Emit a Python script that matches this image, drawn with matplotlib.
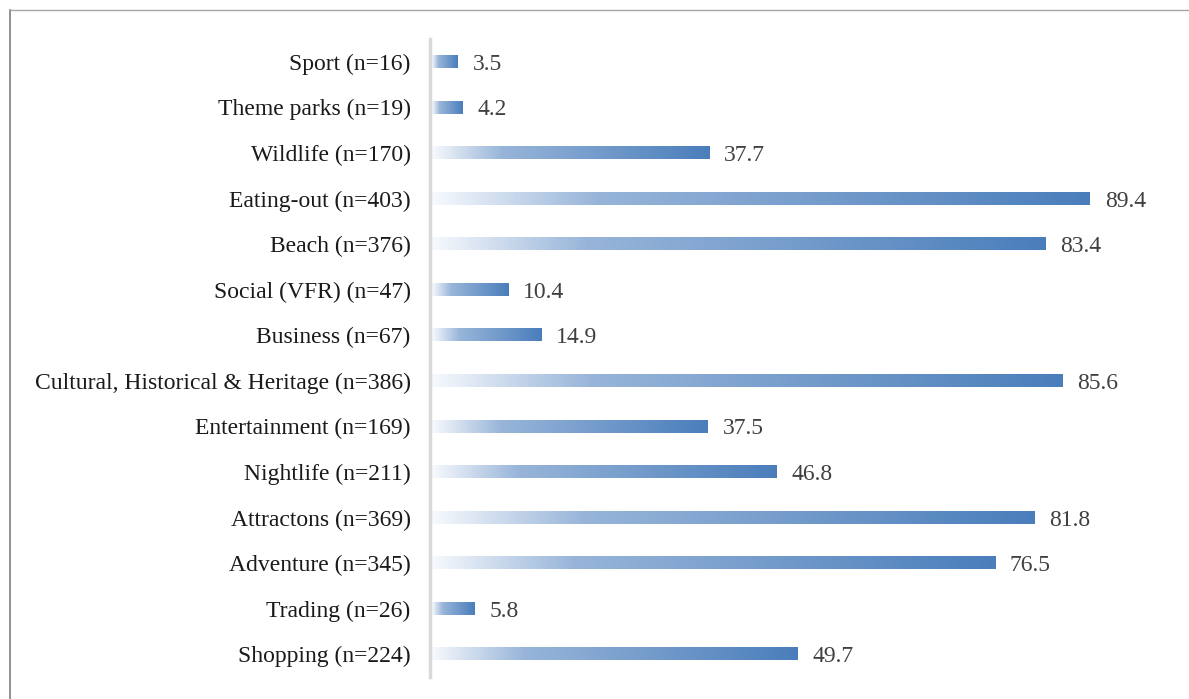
import matplotlib
matplotlib.use("Agg")
import matplotlib.pyplot as plt
import numpy as np
from matplotlib.colors import LinearSegmentedColormap
from matplotlib.lines import Line2D

categories = ["Sport (n=16)", "Theme parks (n=19)", "Wildlife (n=170)", "Eating-out (n=403)",
              "Beach (n=376)", "Social (VFR) (n=47)", "Business (n=67)",
              "Cultural, Historical & Heritage (n=386)", "Entertainment (n=169)",
              "Nightlife (n=211)", "Attractons (n=369)", "Adventure (n=345)",
              "Trading (n=26)", "Shopping (n=224)"]
values = [3.5, 4.2, 37.7, 89.4, 83.4, 10.4, 14.9, 85.6, 37.5, 46.8, 81.8, 76.5, 5.8, 49.7]

plt.rcParams['font.family'] = ['Liberation Serif', 'DejaVu Serif']

fig = plt.figure(figsize=(11.89, 6.99), dpi=100)
W, H = 1189, 699
ax = fig.add_axes([432 / W, 1 - 677 / H, (1180 - 432) / W, (677 - 39) / H])

cmap = LinearSegmentedColormap.from_list(
    "grad", [(0.0, "#f7f9fd"), (0.25, "#98b5d9"), (1.0, "#4a7ebb")])
grad = np.linspace(0, 1, 256).reshape(1, -1)

n = len(categories)
ys = np.arange(n)
bh = 0.27
xmax = (1180 - 432) / 7.36
ax.spines['left'].set_position(('data', -0.25))
for y, v in zip(ys, values):
    ax.imshow(grad, cmap=cmap, aspect='auto', extent=[0, v, y + bh / 2, y - bh / 2],
              interpolation='bilinear', zorder=2)
    ax.text(v + 2.0, y, f"{v:.1f}", va='center_baseline', ha='left', fontsize=17, color='#404040')

ax.set_xlim(0, xmax)
ax.set_ylim(n - 0.5, -0.5)
ax.set_yticks(ys)
ax.set_yticklabels(categories)
ax.tick_params(axis='y', length=0, pad=14, labelsize=17, labelcolor='#1a1a1a')
ax.set_xticks([])
for s in ['top', 'right', 'bottom']:
    ax.spines[s].set_visible(False)
ax.spines['left'].set_color('#d9d9d9')
ax.spines['left'].set_linewidth(2.5)

# outer frame lines
fig.add_artist(Line2D([10 / W, 10 / W], [1 - 10 / H, 0], color='#7f7f7f', lw=1.2))
fig.add_artist(Line2D([10 / W, 1], [1 - 10 / H, 1 - 10 / H], color='#a6a6a6', lw=1.0))

fig.savefig("out.png", dpi=100)
